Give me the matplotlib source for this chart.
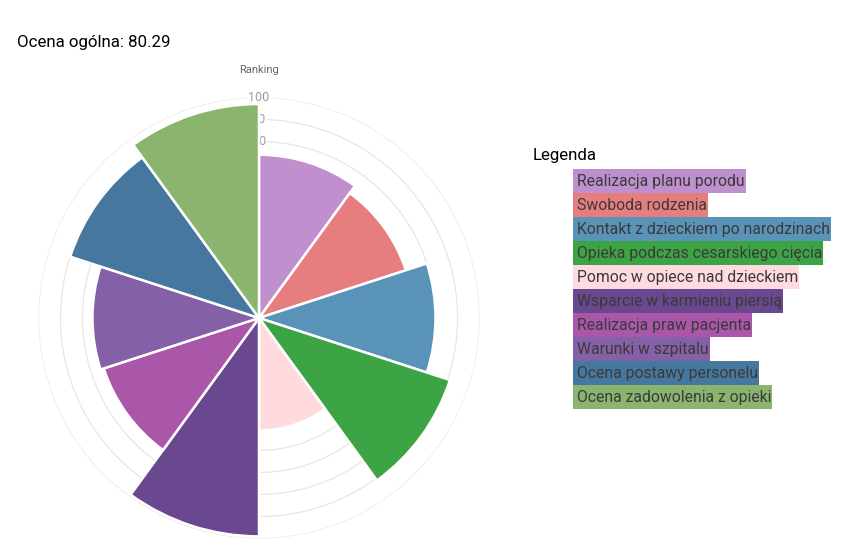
import matplotlib
matplotlib.use("Agg")
import matplotlib.pyplot as plt
import numpy as np
from matplotlib.patches import Rectangle

plt.rcParams['font.family'] = ['Roboto', 'DejaVu Sans']

categories = ['Realizacja planu porodu', 'Swoboda rodzenia', 'Kontakt z dzieckiem po narodzinach',
              'Opieka podczas cesarskiego cięcia', 'Pomoc w opiece nad dzieckiem',
              'Wsparcie w karmieniu piersią', 'Realizacja praw pacjenta', 'Warunki w szpitalu',
              'Ocena postawy personelu', 'Ocena zadowolenia z opieki']
values = [74, 70, 80, 91, 51, 99, 74, 75.5, 90, 97]
colors = ['#c08fce', '#e67e80', '#5a93b8', '#3da446', '#ffdadf',
          '#6a4890', '#aa57aa', '#8460a6', '#46789f', '#8bb46f']
ticks = [0, 10, 20, 30, 40, 50, 60, 70, 80, 90, 100]
overall = 80.29

W, H = 855, 552
fig = plt.figure(figsize=(W / 100, H / 100), dpi=100)

# polar area chart, centre at (259, 318) px, r=100 -> 220.6 px
cx, cy, R = 259, 318, 220.6
ax = fig.add_axes([(cx - R) / W, (H - cy - R) / H, 2 * R / W, 2 * R / H], projection='polar')
ax.set_theta_zero_location('N')
ax.set_theta_direction(-1)
ax.set_ylim(0, 100)

n = len(values)
width = 2 * np.pi / n
theta = np.arange(n) * width
ax.bar(theta, values, width=width, align='edge', color=colors,
       edgecolor='white', linewidth=1.8, zorder=3)

ax.set_xticks([])
ax.set_yticks([])
ax.grid(False)
ax.spines['polar'].set_visible(False)
circ = np.linspace(0, 2 * np.pi, 400)
for t in ticks[1:]:
    ax.plot(circ, np.full_like(circ, t), color='#e6e6e6', lw=0.9, zorder=1)
for t in ticks:
    ax.text(0, t, str(t), ha='center', va='center', fontsize=9, color='#9a9a9a', zorder=2,
            bbox=dict(boxstyle='square,pad=0.1', fc='white', ec='none'))

fig.text(cx / W, 1 - 70 / H, 'Ranking', ha='center', va='center', fontsize=8, color='#666666')
fig.text(17 / W, 1 - 42 / H, f'Ocena ogólna: {overall}', ha='left', va='center', fontsize=12.2, color='black')

# legend
fig.text(533 / W, 1 - 156 / H, 'Legenda', ha='left', va='center', fontsize=12.2, color='black')
fig.canvas.draw()
renderer = fig.canvas.get_renderer()
top, step = 169.3, 24
for i, (lab, c) in enumerate(zip(categories, colors)):
    yc = top + step * i + step / 2
    txt = fig.text(577 / W, 1 - yc / H, lab, ha='left', va='center', fontsize=11.3,
                   color='#3a3a3a', zorder=5)
    bb = txt.get_window_extent(renderer)
    fig.patches.append(Rectangle((573 / W, 1 - (top + step * (i + 1)) / H),
                                 (bb.x1 + 1 - 573) / W, step / H,
                                 transform=fig.transFigure, color=c, zorder=1, lw=0))

fig.savefig('out.png', dpi=100)
